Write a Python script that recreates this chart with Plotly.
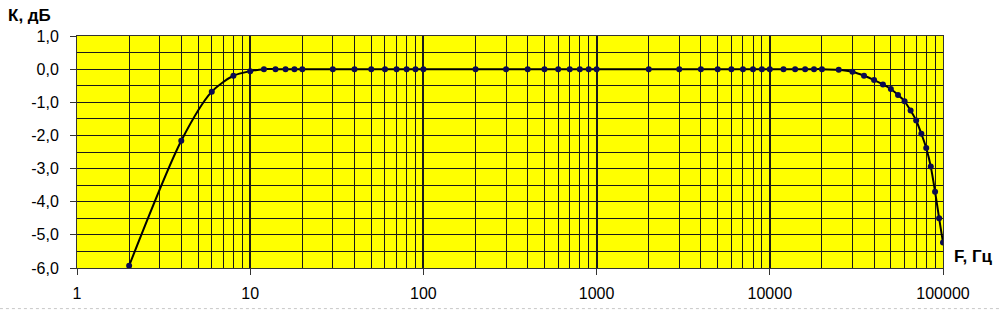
import plotly.graph_objects as go

freq = [2, 4, 6, 8, 10, 12, 14, 16, 18, 20,
        30, 40, 50, 60, 70, 80, 90, 100,
        200, 300, 400, 500, 600, 700, 800, 900, 1000,
        2000, 3000, 4000, 5000, 6000, 7000, 8000, 9000, 10000,
        12000, 14000, 16000, 18000, 20000, 25000, 30000, 35000, 40000,
        45000, 50000, 55000, 60000, 65000, 70000, 75000, 80000, 85000,
        90000, 95000, 100000]
gain = [-5.93, -2.16, -0.68, -0.20, -0.06, 0.0, 0.0, 0.0, 0.0, 0.0,
        0.0, 0.0, 0.0, 0.0, 0.0, 0.0, 0.0, 0.0,
        0.0, 0.0, 0.0, 0.0, 0.0, 0.0, 0.0, 0.0, 0.0,
        0.0, 0.0, 0.0, 0.0, 0.0, 0.0, 0.0, 0.0, 0.0,
        0.0, 0.0, 0.0, 0.0, 0.0, -0.02, -0.08, -0.20, -0.33,
        -0.46, -0.60, -0.78, -0.97, -1.25, -1.55, -1.95, -2.38, -2.94,
        -3.70, -4.50, -5.23]

x_ticks = [1, 10, 100, 1000, 10000, 100000]
x_ticktext = ["1", "10", "100", "1000", "10000", "100000"]
y_ticks = [1, 0, -1, -2, -3, -4, -5, -6]
y_ticktext = ["1,0", "0,0", "-1,0", "-2,0", "-3,0", "-4,0", "-5,0", "-6,0"]
y_minor = [0.5, -0.5, -1.5, -2.5, -3.5, -4.5, -5.5]
x_minor = [m * d for d in x_ticks[:-1] for m in range(2, 10)]

font_family = "Liberation Sans, Arial, sans-serif"

fig = go.Figure()
fig.add_trace(go.Scatter(
    x=freq, y=gain, mode="lines+markers",
    line=dict(color="#000000", width=2, shape="spline", smoothing=0.8),
    marker=dict(color="#0a0a50", size=6),
    showlegend=False, hoverinfo="x+y",
))

fig.update_layout(
    width=1000, height=314,
    margin=dict(l=77, r=57, t=36, b=44),
    paper_bgcolor="#ffffff",
    plot_bgcolor="#ffff00",
    font=dict(family=font_family, size=16, color="#000000"),
    xaxis=dict(
        type="log", range=[0, 5],
        tickmode="array", tickvals=x_ticks, ticktext=x_ticktext,
        ticks="outside", ticklen=6, tickcolor="#333333", tickwidth=1,
        showgrid=True, gridcolor="#1a1a1a", gridwidth=2,
        minor=dict(tickmode="array", tickvals=x_minor, showgrid=True,
                   gridcolor="#1a1a1a", gridwidth=1, ticks=""),
        showline=True, linecolor="#333333", linewidth=1, mirror=True,
        zeroline=False, ticklabelstandoff=5,
    ),
    yaxis=dict(
        range=[-6, 1],
        tickmode="array", tickvals=y_ticks, ticktext=y_ticktext,
        ticks="outside", ticklen=6, tickcolor="#333333", tickwidth=1,
        showgrid=True, gridcolor="#1a1a1a", gridwidth=1,
        minor=dict(tickmode="array", tickvals=y_minor, showgrid=True,
                   gridcolor="#1a1a1a", gridwidth=1, ticks=""),
        showline=True, linecolor="#333333", linewidth=1, mirror=True,
        zeroline=False, ticklabelstandoff=8,
    ),
    annotations=[
        dict(text="<b>К, дБ</b>", xref="paper", yref="paper",
             x=-0.082, y=1.09, xanchor="left", yanchor="middle",
             showarrow=False, font=dict(size=17, family=font_family)),
        dict(text="<b>F, Гц</b>", xref="paper", yref="paper",
             x=1.0104, y=0.051, xanchor="left", yanchor="middle",
             showarrow=False, font=dict(size=17, family=font_family)),
    ],
    shapes=[
        dict(type="line", xref="paper", yref="paper",
             x0=-0.089, x1=1.066, y0=-0.175, y1=-0.175,
             line=dict(color="#c8c8c8", width=1, dash="dot")),
    ],
)

fig.write_html("out.html")
